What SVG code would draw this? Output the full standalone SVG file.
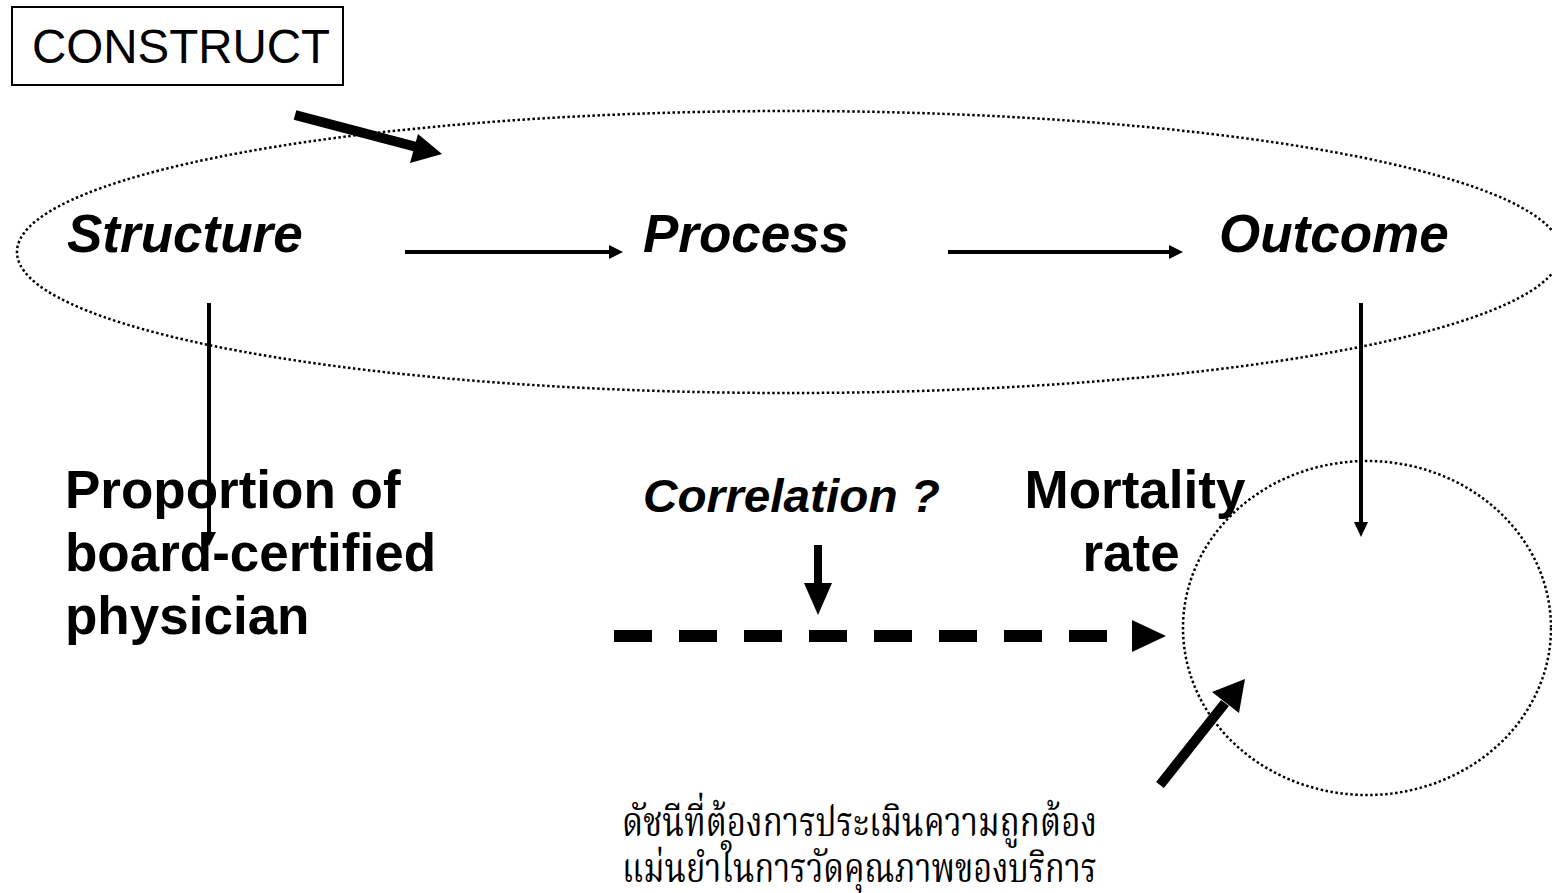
<svg xmlns="http://www.w3.org/2000/svg" width="1552" height="893" viewBox="0 0 1552 893">
<style>
.sans{font-family:"Liberation Sans",Arial,sans-serif;fill:#000}
.bi{font-weight:bold;font-style:italic;font-size:53px}
.b{font-weight:bold;font-size:53px}
.dot{fill:none;stroke:#000;stroke-width:2.5;stroke-dasharray:2.5 2.5}
.thai{font-family:"Liberation Serif","Noto Serif Thai","Noto Sans Thai",serif;font-size:41px;fill:#000}
</style>
<rect width="1552" height="893" fill="#fff"/>
<g id="construct">
<rect x="12" y="7" width="331" height="78" fill="#fff" stroke="#000" stroke-width="2"/>
<text class="sans" x="181" y="63" font-size="47.5" text-anchor="middle">CONSTRUCT</text>
</g>
<g id="construct-ellipse"><ellipse class="dot" cx="789" cy="252" rx="772" ry="141"/></g>
<g id="outcome-circle"><ellipse class="dot" cx="1367" cy="628" rx="184" ry="167"/></g>
<g id="structure"><text class="sans bi" x="67" y="252">Structure</text></g>
<g id="process"><text class="sans bi" x="643" y="252">Process</text></g>
<g id="outcome"><text class="sans bi" x="1219" y="252">Outcome</text></g>
<g id="proportion">
<text class="sans b" x="65" y="508">Proportion of</text>
<text class="sans b" x="65" y="571">board-certified</text>
<text class="sans b" x="65" y="634">physician</text>
</g>
<g id="correlation"><text class="sans" x="643" y="512" font-size="46" font-weight="bold" font-style="italic" textLength="297" lengthAdjust="spacingAndGlyphs">Correlation ?</text></g>
<g id="mortality">
<text class="sans b" x="1135" y="508" text-anchor="middle">Mortality</text>
<text class="sans b" x="1131" y="571" text-anchor="middle">rate</text>
</g>
<g id="thai-note">
<text class="thai" x="622" y="836" textLength="475" lengthAdjust="spacingAndGlyphs">ดัชนีที่ต้องการประเมินความถูกต้อง</text>
<text class="thai" x="622" y="882" textLength="475" lengthAdjust="spacingAndGlyphs">แม่นยำในการวัดคุณภาพของบริการ</text>
</g>
<g id="connectors">
<line x1="295" y1="115" x2="428" y2="150" stroke="#000" stroke-width="10"/>
<path d="M442,154 L410,163 L418,134 z" fill="#000"/>
<line x1="405" y1="252" x2="616" y2="252" stroke="#000" stroke-width="4"/>
<path d="M623,252 L609,245 L609,259 z" fill="#000"/>
<line x1="948" y1="252" x2="1176" y2="252" stroke="#000" stroke-width="4"/>
<path d="M1183,252 L1169,245 L1169,259 z" fill="#000"/>
<line x1="209" y1="303" x2="209" y2="535" stroke="#000" stroke-width="4"/>
<path d="M209,546 L202,532 L216,532 z" fill="#000"/>
<line x1="1361" y1="303" x2="1361" y2="525" stroke="#000" stroke-width="4"/>
<path d="M1361,537 L1354,522 L1368,522 z" fill="#000"/>
<line x1="818" y1="545" x2="818" y2="590" stroke="#000" stroke-width="8"/>
<path d="M818,615 L804,583 L832,583 z" fill="#000"/>
<line x1="614" y1="636" x2="1130" y2="636" stroke="#000" stroke-width="12" stroke-dasharray="38 27"/>
<path d="M1166,636 L1132,620 L1132,652 z" fill="#000"/>
<line x1="1160" y1="785" x2="1225" y2="703" stroke="#000" stroke-width="10"/>
<path d="M1245,679 L1239,713 L1212,692 z" fill="#000"/>
</g>
</svg>
